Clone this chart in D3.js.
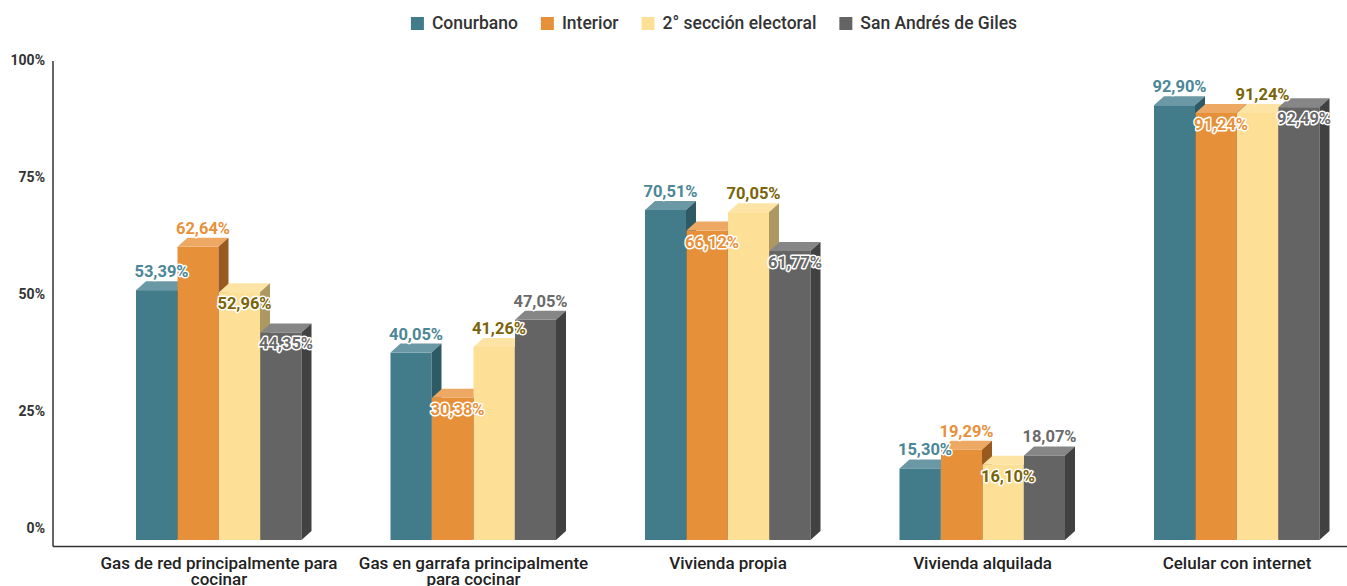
<!DOCTYPE html>
<html>
<head>
<meta charset="utf-8">
<script src="https://cdn.jsdelivr.net/npm/d3@7"></script>
<style>
	body { margin: 0; background: #fff; font-family: Roboto, "Noto Sans", sans-serif; }
	svg { display: block; }
</style>
</head>
<body>
<script>

// categories on the x axis
var categories = ["Gas de red principalmente para cocinar", "Gas en garrafa principalmente para cocinar",
	"Vivienda propia", "Vivienda alquilada", "Celular con internet"];

// series (legend order)
var seriesNames = ["Conurbano", "Interior", "2° sección electoral", "San Andrés de Giles"];

// values in %, one array per series
var conurbano = [53.39, 40.05, 70.51, 15.30, 92.90];
var interior = [62.64, 30.38, 66.12, 19.29, 91.24];
var seccion = [52.96, 41.26, 70.05, 16.10, 91.24];
var sanAndres = [44.35, 47.05, 61.77, 18.07, 92.49];

var yTicks = [0, 25, 50, 75, 100];

var seriesValues = [conurbano, interior, seccion, sanAndres];

// front, top, side, label colour per series
var colors = [
	{front: "#427b8a", top: "#6a98a5", side: "#2e5a66", label: "#4b8796"},
	{front: "#e6913a", top: "#eda863", side: "#985a1f", label: "#e8913a"},
	{front: "#fde096", top: "#fde4a4", side: "#ad9862", label: "#7a6408"},
	{front: "#646464", top: "#868686", side: "#414141", label: "#6a6a6a"}
];

var W = 1347, H = 586;
var depthX = 10, depthY = 9;

var svg = d3.select("body")
	.append("svg")
	.attr("width", W)
	.attr("height", H);

var y = d3.scaleLinear()
	.domain([0, 100])
	.range([540, 72]);

var x0 = d3.scaleBand()
	.domain(categories)
	.range([91.75, 1364.25]);

var x1 = d3.scaleBand()
	.domain(seriesNames)
	.range([0, 166]);

var groupOffset = (x0.bandwidth() - 166) / 2;
var barW = x1.bandwidth() - 0.5;

// y axis labels (drawn on the back wall, a bit higher than the bar base)
var axisScale = y.copy().range([y(0) - 12, y(100) - 12]);

var yAxis = svg.append("g")
	.attr("transform", "translate(53,0)")
	.call(d3.axisLeft(axisScale).tickValues(yTicks).tickSize(0).tickPadding(8)
		.tickFormat(function(d) { return d + "%"; }));
yAxis.select(".domain").remove();
yAxis.selectAll("text")
	.style("font-family", "Roboto, sans-serif")
	.style("font-size", "14px")
	.style("font-weight", "bold")
	.style("fill", "#333");

// axis lines
svg.append("line")
	.attr("x1", 53).attr("x2", 53)
	.attr("y1", 61).attr("y2", 546.5)
	.attr("stroke", "#333").attr("stroke-width", 1.5);

svg.append("line")
	.attr("x1", 53).attr("x2", W)
	.attr("y1", 546.5).attr("y2", 546.5)
	.attr("stroke", "#333").attr("stroke-width", 1.5);

// x axis category labels
var xAxis = svg.append("g")
	.attr("transform", "translate(0,546)")
	.call(d3.axisBottom(x0).tickSize(0).tickPadding(11));
xAxis.select(".domain").remove();
xAxis.selectAll("text")
	.style("font-family", "Roboto, sans-serif")
	.style("font-size", "17px")
	.style("font-weight", "500")
	.style("fill", "#222")
	.call(wrap, 250);

function wrap(text, width) {
	text.each(function() {
		var text = d3.select(this),
			words = text.text().split(/\s+/).reverse(),
			word,
			line = [],
			lineNumber = 0,
			lineHeight = 0.92,
			yy = text.attr("y"),
			dy = parseFloat(text.attr("dy")),
			tspan = text.text(null).append("tspan").attr("x", 0).attr("y", yy).attr("dy", dy + "em");
		while (word = words.pop()) {
			line.push(word);
			tspan.text(line.join(" "));
			if (tspan.node().getComputedTextLength() > width) {
				line.pop();
				tspan.text(line.join(" "));
				line = [word];
				tspan = text.append("tspan").attr("x", 0).attr("y", yy)
					.attr("dy", ++lineNumber * lineHeight + dy + "em").text(word);
			}
		}
	});
}

// 3d bars
var bars = svg.append("g");
var labelLayer = svg.append("g");

categories.forEach(function(cat, ci) {

	var placed = [];

	seriesNames.forEach(function(s, si) {
		var v = seriesValues[si][ci];
		var bx = x0(cat) + groupOffset + x1(s);
		var top = y(v);
		var bottom = y(0);
		var c = colors[si];
		var g = bars.append("g");

		g.append("rect")
			.attr("x", bx)
			.attr("y", top)
			.attr("width", barW)
			.attr("height", bottom - top)
			.attr("fill", c.front);

		g.append("polygon")
			.attr("points", [[bx, top], [bx + depthX, top - depthY], [bx + barW + depthX, top - depthY], [bx + barW, top]].join(" "))
			.attr("fill", c.top);

		g.append("polygon")
			.attr("points", [[bx + barW, top], [bx + barW + depthX, top - depthY], [bx + barW + depthX, bottom - depthY], [bx + barW, bottom]].join(" "))
			.attr("fill", c.side);

		// value label, above the bar unless it would collide
		var cx = bx + barW / 2 + depthX / 2;
		var label = labelLayer.append("text")
			.attr("text-anchor", "middle")
			.attr("x", cx)
			.style("font-family", "Roboto, sans-serif")
			.style("font-size", "16.5px")
			.style("font-weight", "bold")
			.style("fill", c.label)
			.style("stroke", "#fff")
			.style("stroke-width", 3)
			.style("stroke-linejoin", "round")
			.style("paint-order", "stroke")
			.text(v.toFixed(2).replace(".", ",") + "%");

		var tw = label.node().getComputedTextLength();
		var base = top - 13;
		var box = {x0: cx - tw / 2, x1: cx + tw / 2, y0: base - 12, y1: base + 1};

		var prevTaller = si > 0 && y(seriesValues[si - 1][ci]) < top - 2;
		var hit = placed.some(function(p) {
			return box.x0 < p.x1 && box.x1 > p.x0 && box.y0 < p.y1 && box.y1 > p.y0;
		});

		if (prevTaller || hit) {
			base = top + 17;
			box = {x0: cx - tw / 2, x1: cx + tw / 2, y0: base - 12, y1: base + 1};
		}
		placed.push(box);
		label.attr("y", base);
	});
});

// legend
var legend = svg.append("g");
var lx = 0;
seriesNames.forEach(function(s, i) {
	var item = legend.append("g").attr("transform", "translate(" + lx + ",0)");
	item.append("rect")
		.attr("x", 0).attr("y", 17)
		.attr("width", 13).attr("height", 13)
		.attr("fill", colors[i].front);
	var t = item.append("text")
		.attr("x", 21).attr("y", 29)
		.style("font-family", "Roboto, sans-serif")
		.style("font-size", "17.5px")
		.style("font-weight", "500")
		.style("fill", "#333")
		.text(s);
	lx += 21 + t.node().getComputedTextLength() + 23;
});
var legendW = lx - 23;
legend.attr("transform", "translate(" + (714 - legendW / 2) + ",0)");

</script>
</body>
</html>
